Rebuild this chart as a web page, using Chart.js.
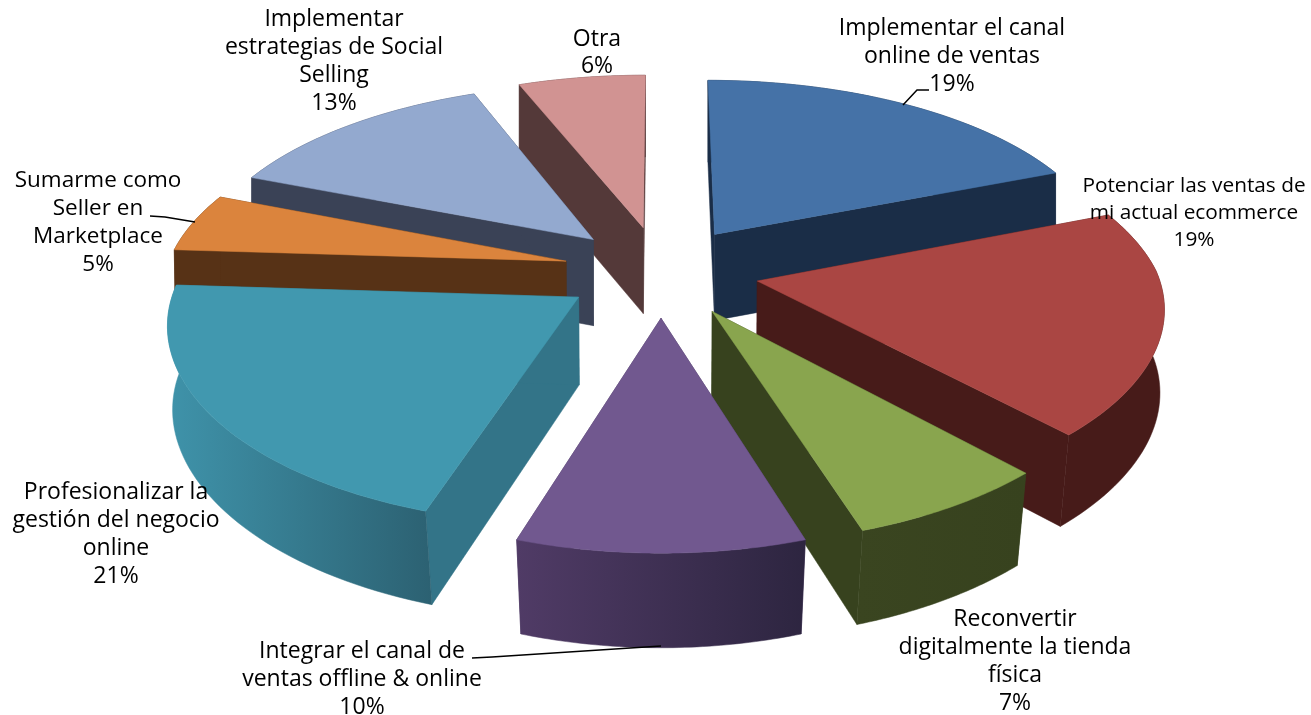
<!DOCTYPE html>
<html>
<head>
<meta charset="utf-8">
<style>html,body{margin:0;padding:0;background:#fff}canvas{display:block}</style>
<script src="https://cdn.jsdelivr.net/npm/chart.js@4"></script>
</head>
<body>
<canvas id="c" width="1311" height="715"></canvas>
<script>
const categories = ["Implementar el canal online de ventas","Potenciar las ventas de mi actual ecommerce","Reconvertir digitalmente la tienda física","Integrar el canal de ventas offline & online","Profesionalizar la gestión del negocio online","Sumarme como Seller en Marketplace","Implementar estrategias de Social Selling","Otra"];
const values = [19,19,7,10,21,5,13,6];
const labelLines = [
  ["Implementar el canal","online de ventas"],
  ["Potenciar las ventas de","mi actual ecommerce"],
  ["Reconvertir","digitalmente la tienda","física"],
  ["Integrar el canal de","ventas offline & online"],
  ["Profesionalizar la","gestión del negocio","online"],
  ["Sumarme como","Seller en","Marketplace"],
  ["Implementar","estrategias de Social","Selling"],
  ["Otra"]
];
const topColors = ["#4572A7","#AA4643","#89A54E","#71588F","#4198AF","#DB843D","#93A9CF","#D19392"];
const sideColors = ["#1A2D47","#471B19","#37421E","#4A3860","#337488","#573216","#3A4256","#543939"];
const wallStart = ["#1A2D47","#471B19","#3A4520","#503B66","#3F93AA","#573216","#3A4256","#543939"];
const wallEnd = ["#1A2D47","#471B19","#37421E","#2D2540","#2C6172","#573216","#3A4256","#543939"];

// layout of the projected pie
const view = {dx:5.5, dy:-86.5, radius:400, tilt:0.465, perspBack:0.00036, perspFront:0.0003, perspY:0.00036, depth:87};
const fontFamily = '"Open Sans"';
const labelBoxes = [
  {x:952,y:28,lh:28,size:23},{x:1194,y:186,lh:27,size:20.8},{x:1015,y:619,lh:28,size:23},{x:362,y:651,lh:28,size:23},
  {x:116,y:492,lh:28.3,size:23},{x:98,y:181,lh:28,size:22.5},{x:334,y:19,lh:28,size:23},{x:597,y:39,lh:27,size:23}
];
const leaders = [
  [[903,105],[917,90],[929,90]],
  [[150,216],[165,217],[195,222]],
  [[472,658],[492,657],[661,646]]
];

const pie3d = {
  id:'pie3d',
  beforeDatasetsDraw(chart){
    const ctx = chart.ctx;
    const arcs = chart.getDatasetMeta(0).data;
    const order = arcs.map((a,i)=>i).sort((i,j)=>{
      const m=a=>Math.sin((arcs[a].startAngle+arcs[a].endAngle)/2);
      return m(i)-m(j);
    });
    const proj = (arc,u,v,bottom)=>{
      const cx=arc.x+view.dx, cy=arc.y+view.dy;
      const fx=1/(1-(v<0?view.perspBack:view.perspFront)*v), fy=1/(1-view.perspY*v);
      const s=bottom?1-0.025*Math.max(0,(v+100)/500):1;
      return [cx+u*fx*s, cy+v*view.tilt*fy+(bottom?view.depth*(0.6+0.4*fy):0)];
    };
    const poly=(pts,fill)=>{
      ctx.beginPath();
      pts.forEach((p,i)=>i?ctx.lineTo(p[0],p[1]):ctx.moveTo(p[0],p[1]));
      ctx.closePath();
      ctx.fillStyle=fill; ctx.fill();
      ctx.strokeStyle=fill; ctx.lineWidth=0.5; ctx.stroke();
    };
    for(const i of order){
      const arc=arcs[i];
      const mid=(arc.startAngle+arc.endAngle)/2;
      const ex=arc.options.offset;
      const ou=Math.cos(mid)*ex, ov=Math.sin(mid)*ex;
      const R=view.radius;
      const n=48, rim=[];
      for(let k=0;k<=n;k++){
        const a=arc.startAngle+(arc.endAngle-arc.startAngle)*k/n;
        rim.push([ou+R*Math.cos(a),ov+R*Math.sin(a)]);
      }
      const aT=proj(arc,ou,ov,false), aB=proj(arc,ou,ov,true);
      const rT=rim.map(p=>proj(arc,p[0],p[1],false));
      const rB=rim.map(p=>proj(arc,p[0],p[1],true));
      // radial walls
      poly([aT,rT[0],rB[0],aB],sideColors[i]);
      poly([aT,rT[n],rB[n],aB],sideColors[i]);
      // outer wall
      const xs=rT.concat(rB).map(p=>p[0]);
      const g=ctx.createLinearGradient(Math.min(...xs),0,Math.max(...xs),0);
      g.addColorStop(0,wallStart[i]); g.addColorStop(1,wallEnd[i]);
      poly(rT.concat(rB.slice().reverse()),g);
      // top
      poly([aT].concat(rT),topColors[i]);
    }
    // leaders
    ctx.strokeStyle='#000'; ctx.lineWidth=1.5;
    leaders.forEach(l=>{
      ctx.beginPath();
      l.forEach((p,i)=>i?ctx.lineTo(p[0],p[1]):ctx.moveTo(p[0],p[1]));
      ctx.stroke();
    });
    // labels
    const total=values.reduce((a,b)=>a+b,0);
    ctx.fillStyle='#000'; ctx.textAlign='center'; ctx.textBaseline='middle';
    labelLines.forEach((lines,i)=>{
      const b=labelBoxes[i];
      ctx.font=b.size+'px '+fontFamily;
      lines.concat([Math.round(values[i]/total*100)+'%']).forEach((t,j)=>{
        ctx.fillText(t,b.x,b.y+j*b.lh);
      });
    });
    return false;
  }
};

new Chart(document.getElementById('c'),{
  type:'pie',
  data:{labels:categories,datasets:[{data:values,backgroundColor:topColors,offset:98,borderWidth:0}]},
  options:{responsive:false,animation:false,events:[],layout:{padding:0},
    plugins:{legend:{display:false},tooltip:{enabled:false},title:{display:false}}},
  plugins:[pie3d]
});
</script>
</body>
</html>
